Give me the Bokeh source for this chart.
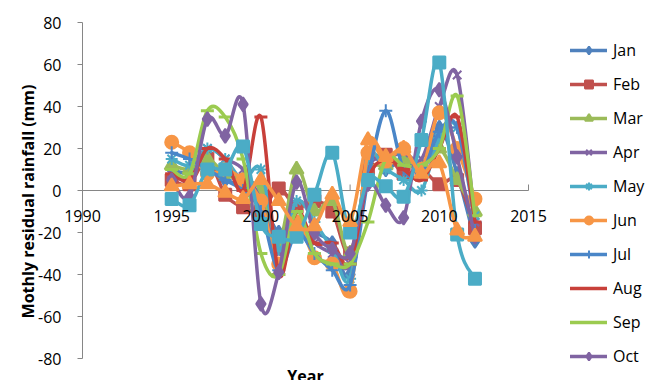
from bokeh.plotting import figure
from bokeh.models import Legend, LegendItem, ColumnDataSource, Range1d
from bokeh.core.properties import value
from bokeh.embed import file_html
from bokeh.resources import INLINE
import math

# Monthly residual rainfall (mm), 1995-2012
years = list(range(1995, 2013))
months = ["Jan", "Feb", "Mar", "Apr", "May", "Jun",
          "Jul", "Aug", "Sep", "Oct", "Nov", "Dec"]

jan = [10, 8, 12, 5, 2, -5, -20, -15, -20, -25, -40, 15, 10, 15, 10, 30, 8, -24]
feb = [5, 3, 15, -2, -8, -10, 1, -8, -5, -10, -30, 10, 17, 8, 10, 3, 5, -18]
mar = [12, 10, 15, 8, 5, 0, -25, 10, -10, -5, -30, 8, 12, 15, 12, 20, 5, -10]
apr = [8, 5, 20, 15, 10, -5, -30, -15, -25, -30, -35, 10, 15, 18, 15, 40, 55, -15]
may = [15, 12, 20, 15, 5, 10, -28, -5, -15, -28, -42, 15, 10, 5, 0, 25, 30, -12]
jun = [23, 18, 8, 10, 5, -5, -35, -15, -32, -35, -48, 18, 14, 20, 10, 37, 20, -4]
jul = [18, 15, 10, 5, 0, -10, -38, -20, -30, -38, -45, 5, 38, 10, 8, 28, 30, -15]
aug = [8, 5, 20, 15, 0, 35, -40, -10, -25, -25, -35, 5, 15, 10, 5, 20, 35, -15]
sep = [10, 8, 38, 35, 15, -30, -40, -10, -30, -35, -35, -15, 15, 12, 12, 20, 45, -12]
oct_ = [5, -3, 34, 26, 41, -54, -39, 4, -20, -28, -30, 3, -7, -13, 33, 48, 16, -22]
nov = [-4, -7, 10, 10, 21, -16, -22, -22, -2, 18, -20, 5, 2, -3, 24, 61, -21, -42]
dec = [2, 3, 3, -1, -4, 5, -5, -17, -17, -2, -15, 24, 16, 20, 8, 13, -19, -22]

series = [jan, feb, mar, apr, may, jun, jul, aug, sep, oct_, nov, dec]

x_ticks = [1990, 1995, 2000, 2005, 2010, 2015]
y_ticks = [-80, -60, -40, -20, 0, 20, 40, 60, 80]
y_title = "Mothly residual rainfall (mm)"
x_title = "Year"

colors = ["#4F81BD", "#C0504D", "#9BBB59", "#8064A2", "#4BACC6", "#F79646",
          "#4A86C8", "#C8403A", "#9BCB50", "#8064A2", "#4BACC6", "#F79646"]
markers = ["diamond", "square", "triangle", "x", "asterisk", "circle",
           "cross", "dash", "dash", "diamond", "square", "triangle"]
msizes = [14, 12, 14, 12, 12, 13, 13, 13, 13, 14, 12, 14]

FONT = "Open Sans"
AXIS = "#868686"

# canvas geometry: plot area spans 82..528 px across, 22..358 px down
W, H = 647, 380
LEFT, RIGHT, TOP, BOTTOM = 82, 528, 22, 358
px_x = (RIGHT - LEFT) / (x_ticks[-1] - x_ticks[0])
px_y = (BOTTOM - TOP) / (y_ticks[-1] - y_ticks[0])
x_range = Range1d(x_ticks[0] - LEFT / px_x, x_ticks[0] + (W - LEFT) / px_x)
y_range = Range1d(y_ticks[0] - (H - BOTTOM) / px_y, y_ticks[-1] + TOP / px_y)


def smooth_segments(xs, ys, t=1.0 / 6.0):
    """Cubic Bezier pieces through the points (Catmull-Rom style)."""
    n = len(xs)
    d = dict(x0=[], y0=[], x1=[], y1=[], cx0=[], cy0=[], cx1=[], cy1=[])
    for i in range(n - 1):
        a = i - 1 if i > 0 else i
        b = i + 2 if i + 2 < n else i + 1
        d["x0"].append(xs[i]); d["y0"].append(ys[i])
        d["x1"].append(xs[i + 1]); d["y1"].append(ys[i + 1])
        d["cx0"].append(xs[i] + (xs[i + 1] - xs[a]) * t)
        d["cy0"].append(ys[i] + (ys[i + 1] - ys[a]) * t)
        d["cx1"].append(xs[i + 1] - (xs[b] - xs[i]) * t)
        d["cy1"].append(ys[i + 1] - (ys[b] - ys[i]) * t)
    return d


p = figure(width=W, height=H, x_range=x_range, y_range=y_range,
           output_backend="svg", toolbar_location=None,
           x_axis_location=None, y_axis_location=None,
           min_border=0)
p.outline_line_color = None
p.xgrid.visible = False
p.ygrid.visible = False

x0, y0 = x_ticks[0], 0

# vertical axis: line, outward ticks, labels, title
p.segment(x0=[x0], y0=[y_ticks[0]], x1=[x0], y1=[y_ticks[-1]],
          line_color=AXIS, line_width=1)
p.ray(x=[x0] * len(y_ticks), y=y_ticks, length=5, length_units="screen",
      angle=math.pi, line_color=AXIS, line_width=1)
p.text(x=[x0] * len(y_ticks), y=y_ticks, text=[str(v) for v in y_ticks],
       text_font=value(FONT), text_font_size="16px", text_color="#000000",
       text_align="right", text_baseline="middle", x_offset=-21)
p.text(x=[x0], y=[y0], text=[y_title], angle=math.pi / 2,
       text_font=value(FONT), text_font_size="16px", text_font_style="bold",
       text_color="#000000", text_align="center", text_baseline="middle",
       x_offset=-55, y_offset=11)

# horizontal axis crossing at zero
p.segment(x0=[x_ticks[0]], y0=[y0], x1=[x_ticks[-1]], y1=[y0],
          line_color=AXIS, line_width=1)
p.ray(x=x_ticks, y=[y0] * len(x_ticks), length=6, length_units="screen",
      angle=math.pi / 2, line_color=AXIS, line_width=1)

items = []
for name, vals, col, mk, ms in zip(months, series, colors, markers, msizes):
    seg = ColumnDataSource(smooth_segments(years, vals))
    r_line = p.bezier(x0="x0", y0="y0", x1="x1", y1="y1",
                      cx0="cx0", cy0="cy0", cx1="cx1", cy1="cy1",
                      source=seg, line_color=col, line_width=3.5,
                      line_cap="round", line_join="round")
    filled = mk in ("diamond", "square", "triangle", "circle")
    r_pts = p.scatter(x=years, y=vals, marker=mk, size=ms,
                      fill_color=col if filled else None,
                      line_color=col,
                      line_width=3 if mk == "dash" else 2)
    items.append(LegendItem(label=name, renderers=[r_line, r_pts]))

# year labels under the zero line
p.text(x=x_ticks, y=[y0] * len(x_ticks), text=[str(v) for v in x_ticks],
       text_font=value(FONT), text_font_size="16px", text_color="#000000",
       text_align="center", text_baseline="middle", y_offset=25)

# horizontal axis title
p.text(x=[(x_ticks[0] + x_ticks[-1]) / 2], y=[y_ticks[0]], text=[x_title],
       text_font=value(FONT), text_font_size="16px", text_font_style="bold",
       text_color="#000000", text_align="center", text_baseline="top",
       y_offset=6)

# the legend runs past the lower edge, as in the original layout
legend = Legend(items=items, location=(570, -55), margin=0, padding=10,
                glyph_width=37, glyph_height=20, label_height=20,
                spacing=12, label_standoff=6,
                label_text_font=FONT, label_text_font_size="16px",
                label_text_color="#000000",
                border_line_color=None, background_fill_alpha=0)
p.add_layout(legend)

open("out.html", "w").write(file_html(p, INLINE))
